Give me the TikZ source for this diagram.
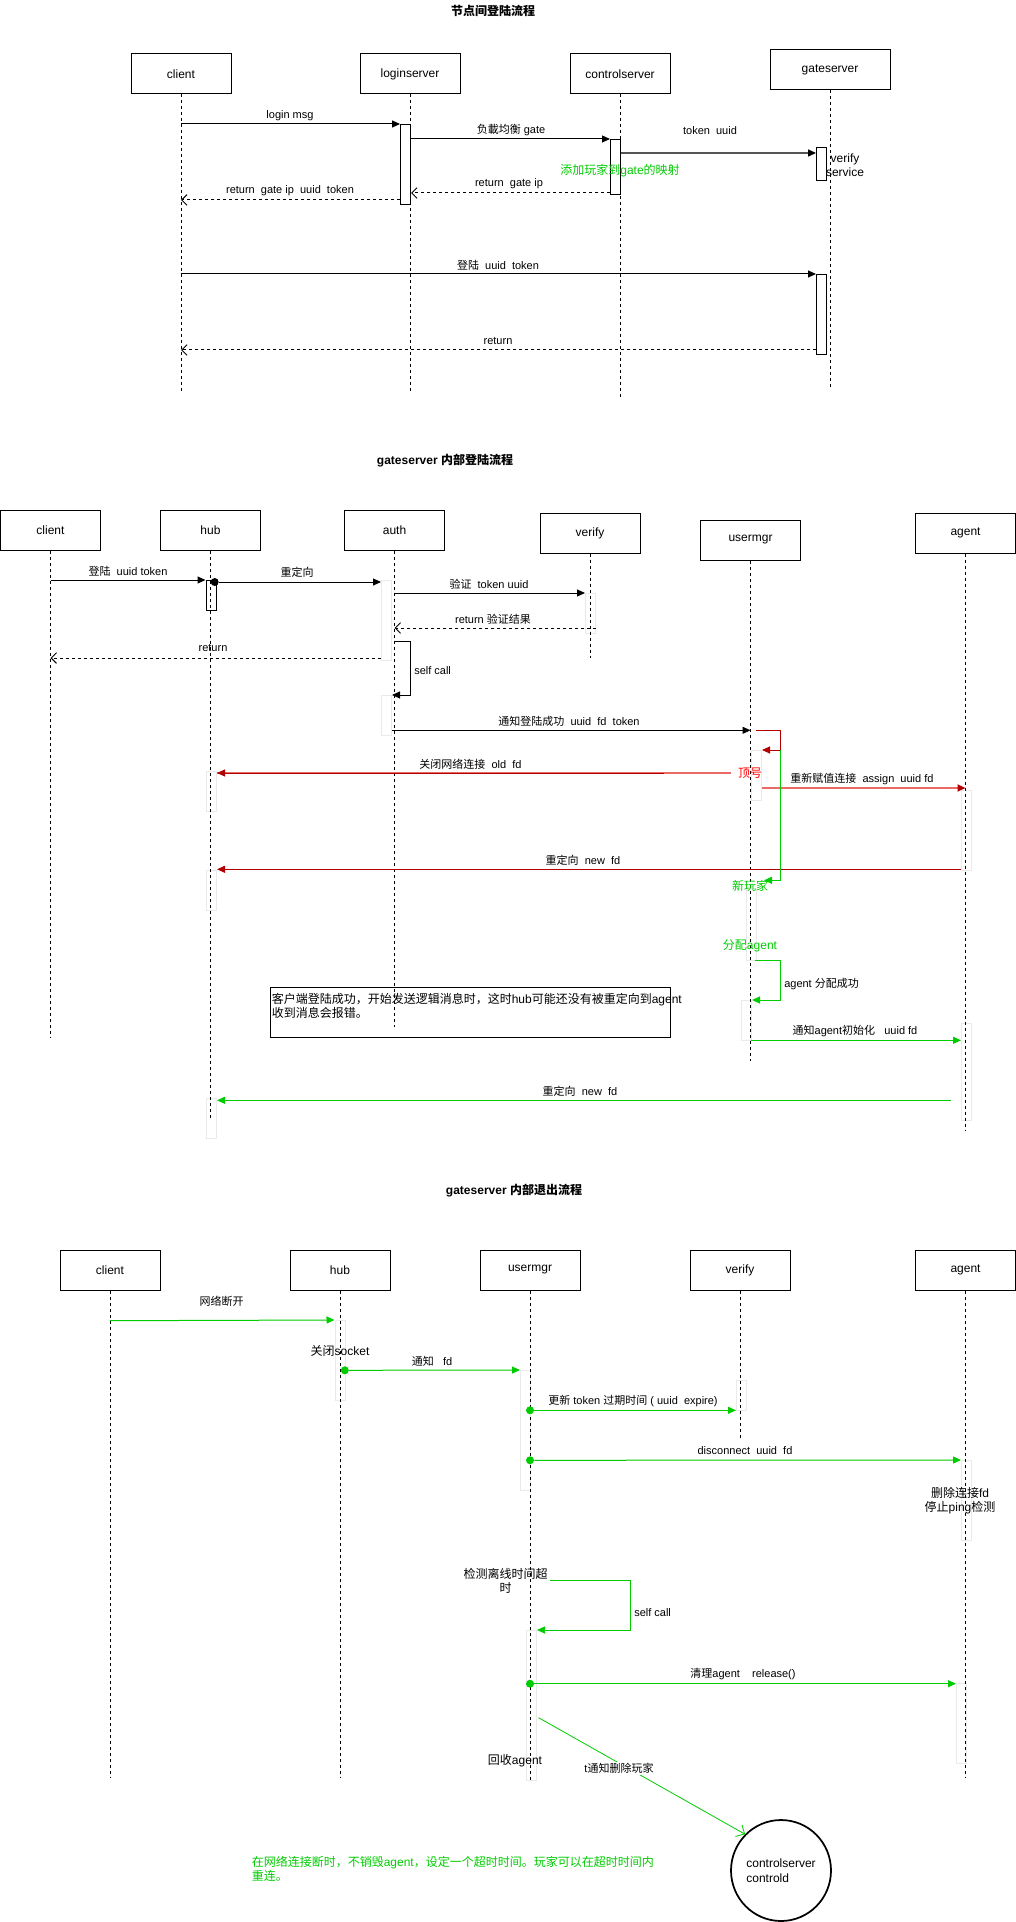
\documentclass[tikz,border=0pt]{standalone}
\usepackage{fontspec}
\setmainfont{Liberation Sans}
\newfontfamily\zh{Noto Sans CJK SC}
\usetikzlibrary{arrows.meta,shapes.geometric}
\definecolor{gr}{RGB}{0,204,0}
\definecolor{dred}{RGB}{178,0,0}
\definecolor{lred}{RGB}{234,107,102}
\definecolor{faint}{RGB}{234,234,234}
\definecolor{tokgray}{RGB}{85,85,85}
\newcommand\fsa{\fontsize{8.25pt}{9.9pt}\selectfont}
\newcommand\fsb{\fontsize{9pt}{10.8pt}\selectfont}
\tikzset{
  actor/.style={draw, line width=0.75pt, minimum width=75pt, minimum height=30pt, inner sep=0pt, font=\fsb},
  lbl/.style={font=\fsa, inner sep=0pt},
  big/.style={font=\fsb, inner sep=0pt},
  ttl/.style={font=\fsb\bfseries, inner sep=0pt},
  life/.style={line width=0.75pt, dash pattern=on 2.25pt off 2.25pt},
  msg/.style={line width=0.75pt, -{Triangle[length=6pt,width=5.25pt]}},
  ret/.style={line width=0.75pt, dash pattern=on 2.25pt off 2.25pt, -{Straight Barb[length=4pt,width=8pt]}},
  actbox/.style 2 args={draw, fill=white, line width=0.75pt, anchor=north west, inner sep=0pt, minimum width=#1*0.75pt, minimum height=#2*0.75pt},
  fact/.style 2 args={actbox={#1}{#2}, draw=faint},
  dot/.style={circle, fill, inner sep=0pt, minimum size=6pt},
}
\begin{document}
\begin{tikzpicture}[x=0.75pt,y=-0.75pt]
\fill[white] (0,0) rectangle (1016,1922);
\useasboundingbox (0,0) rectangle (1016,1922);

%================ Section 1 =================
\node[ttl] (t1) at (493,11) {\zh 节点间登陆流程};
\node[actor] (c1) at (181,74) {client};
\node[actor] (l1) at (410,74) {loginserver};
\node[actor] (k1) at (620,74) {controlserver};
\node[actor, minimum width=90pt] (g1) at (830,70) {gateserver};

\node[actbox={10}{80}] (la1) at (400,124) {};
\node[actbox={10}{55}] (ca1) at (610,139) {};
\node[actbox={10}{33}] (ga1) at (816,147) {};
\node[actbox={10}{80}] (ga2) at (816,274) {};

\draw[life] (c1.south) -- (c1 |- 0,391);
\draw[life] (l1.south) -- (l1 |- 0,391);
\draw[life] (k1.south) -- (k1 |- 0,397);
\draw[life] (g1.south) -- (g1 |- 0,387);

\draw[msg] (c1 |- 0,124) -- (la1.north west);
\node[lbl] (m1) at (290,116) {login msg};
\draw[msg] (la1.east |- 0,139) -- (ca1.north west);
\node[lbl] (m2) at (511,130) {{\zh 负載均衡} gate};
\draw[line width=1.1pt, tokgray, -{Triangle[length=6pt,width=5.25pt,color=black]}] (ca1.east |- 0,153) -- (ga1.west |- 0,153);
\node[lbl] (m3) at (710,131) {token\ \ uuid};
\node[big, text=gr] (m4) at (620,171) {{\zh 添加玩家到}gate{\zh 的映射}};
\node[big, align=center] (m5) at (845,165) {verify\\service};
\draw[ret] (ca1.west |- 0,193) -- (la1.east |- 0,193);
\node[lbl] (m6) at (509,184) {return\ \ gate ip};
\draw[ret] (la1.west |- 0,200) -- (c1 |- 0,200);
\node[lbl] (m7) at (290,191) {return\ \ gate ip\ \ uuid\ \ token};
\draw[msg] (c1 |- 0,274) -- (ga2.north west);
\node[lbl] (m8) at (498,265) {{\zh 登陆}\ \ uuid\ \ token};
\draw[ret] (ga2.west |- 0,350) -- (c1 |- 0,350);
\node[lbl] (m9) at (498,341) {return};

%================ Section 2 =================
\node[ttl] (t2) at (445,461) {gateserver {\zh 内部登陆流程}};
\node[actor] (c2) at (50.5,530) {client};
\node[actor] (h2) at (210.5,530) {hub};
\node[actor] (a2) at (394.5,530) {auth};
\node[actor] (v2) at (590,533) {verify};
\node[actor] (u2) at (750.5,540) {usermgr};
\node[actor] (ag2) at (965.5,533) {agent};

\node[actbox={10}{30}] (hA) at (205.5,580) {};
\node[fact={10}{80}] (aA1) at (381,580) {};
\node[fact={10}{40}] (vA) at (585,593) {};
\node[fact={10}{40}] (aA2) at (381,695) {};
\node[fact={10}{50}] (uA1) at (751,750) {};
\node[fact={10}{40}] (hA2) at (206,771) {};
\node[fact={10}{80}] (agA1) at (961,790) {};
\node[fact={10}{40}] (hA3) at (206,870) {};
\node[fact={10}{72}] (uA2) at (746,888) {};
\node[fact={10}{40}] (uA3) at (741,1000) {};
\node[fact={10}{97}] (agA2) at (961,1023) {};
\node[fact={10}{40}] (hA4) at (206,1098) {};

\draw[life] (c2.south) -- (c2 |- 0,1037);
\draw[life] (h2.south) -- (h2 |- 0,1118);
\draw[life] (a2.south) -- (a2 |- 0,1027);
\draw[life] (v2.south) -- (v2 |- 0,658);
\draw[life] (u2.south) -- (u2 |- 0,1061);
\draw[life] (ag2.south) -- (ag2 |- 0,1130);

\draw[msg] (c2 |- 0,580) -- (hA.north west);
\node[lbl] (n1) at (128,571) {{\zh 登陆}\ \ uuid token};
\node[dot] (d1) at (214.7,582) {};
\draw[msg] (d1) -- (aA1.west |- 0,582);
\node[lbl] (n2) at (297,572) {\zh 重定向};
\draw[msg] (a2 |- 0,593) -- (vA.north west);
\node[lbl] (n3) at (489,584) {{\zh 验证}\ \ token uuid};
\draw[ret] (vA.east |- 0,628) -- (a2 |- 0,628);
\node[lbl] (n4) at (493,619) {return {\zh 验证结果}};
\draw[ret] (aA1.west |- 0,658) -- (c2 |- 0,658);
\node[lbl] (n5) at (213,648) {return};
\coordinate (sc1) at (410,641);
\draw[msg] (a2 |- sc1) -- (sc1) |- (aA2.north east);
\node[lbl, anchor=west] (n6) at (414,671) {self call};
\draw[msg] (aA2.east |- 0,730.3) -- (u2 |- 0,730.3);
\node[lbl] (n7) at (569,721) {{\zh 通知登陆成功}\ \ uuid\ \ fd\ \ token};
\coordinate (rr) at (780.3,730.3);
\draw[line width=0.75pt, dred, -{Triangle[length=6pt,width=5.25pt]}] (755.7,730.3) -- (rr) |- (uA1.north east);
% 关闭网络连接
\draw[lred, line width=1.5pt] (730.7,773) -- (hA2.east |- 0,773);
\draw[line width=0.75pt, dred, -{Triangle[length=6pt,width=5.25pt]}] (664,773) -- (hA2.east |- 0,773);
\node[big, text=red] (n8) at (750,773) {\zh 顶号};
\node[lbl] (n9) at (470.5,764) {{\zh 关闭网络连接}\ \ old\ \ fd};
\draw[lred, line width=1.5pt, -{Triangle[length=6pt,width=5.25pt,color=dred]}] (uA1.east |- 0,788) -- (ag2 |- 0,788);
\node[lbl] (n10) at (862,779) {{\zh 重新赋值连接}\ \ assign\ \ uuid fd};
\draw[line width=0.75pt, dred, -{Triangle[length=6pt,width=5.25pt]}] (agA1.west |- 0,869.3) -- (hA3.east |- 0,869.3);
\node[lbl] (n11) at (583,860) {{\zh 重定向}\ \ new\ \ fd};
\coordinate (np) at (764,880.3);
\draw[line width=0.75pt, gr, -{Triangle[length=6pt,width=5.25pt]}] (rr |- uA1.north) -- (rr |- np) -- (np);
\node[big, text=gr] (n12) at (750,886) {\zh 新玩家};
\node[big, text=gr] (n13) at (750,946) {{\zh 分配}agent};
\coordinate (sc2) at (780,960.3);
\draw[line width=0.75pt, gr, -{Triangle[length=6pt,width=5.25pt]}] (755,960.3) -- (sc2) |- (uA3.north east);
\node[lbl, anchor=west] (n14) at (784,983.7) {agent {\zh 分配成功}};
\node[draw, line width=0.75pt, anchor=north west, inner sep=0pt, minimum width=300pt, minimum height=38pt] (nb) at (270.3,986.7) {};
\node[big, anchor=north west, align=left] (nt) at (271.5,993) {{\zh 客户端登陆成功，开始发送逻辑消息时，这时}hub{\zh 可能还没有被重定向到}agent\\{\zh 收到消息会报错。}};
\draw[line width=0.75pt, gr, -{Triangle[length=6pt,width=5.25pt]}] (u2 |- 0,1040.3) -- (agA2.west |- 0,1040.3);
\node[lbl] (n15) at (855,1031) {{\zh 通知}agent{\zh 初始化}\ \ \ uuid fd};
\draw[line width=0.75pt, gr, -{Triangle[length=6pt,width=5.25pt]}] (951,1100.3) -- (hA4.east |- 0,1100.3);
\node[lbl] (n16) at (580,1091) {{\zh 重定向}\ \ new\ \ fd};

%================ Section 3 =================
\node[ttl] (t3) at (514,1191) {gateserver {\zh 内部退出流程}};
\node[actor] (c3) at (110,1270) {client};
\node[actor] (h3) at (340,1270) {hub};
\node[actor] (u3) at (530,1270) {usermgr};
\node[actor] (v3) at (740,1270) {verify};
\node[actor] (ag3) at (965.5,1270) {agent};

\node[fact={10}{80}] (hB) at (334.5,1320) {};
\node[fact={10}{120}] (uB1) at (520,1370) {};
\node[fact={10}{30}] (vB) at (736,1380) {};
\node[fact={10}{80}] (agB1) at (961,1460) {};
\node[fact={10}{150}] (uB2) at (526,1630) {};
\node[fact={10}{80}] (agB2) at (956,1683) {};

\draw[life] (c3.south) -- (c3 |- 0,1778);
\draw[life] (h3.south) -- (h3 |- 0,1778);
\draw[life] (u3.south) -- (u3 |- 0,1780);
\draw[life] (v3.south) -- (v3 |- 0,1438);
\draw[life] (ag3.south) -- (ag3 |- 0,1778);

\begin{scope}[gr]
\draw[msg] (c3 |- 0,1320.7) -- (hB.north west);
\node[dot] (e1) at (344.8,1370.3) {};
\draw[msg] (e1) -- (uB1.north west);
\node[dot] (e2) at (530,1410.3) {};
\draw[msg] (e2) -- (vB.west |- e2);
\node[dot] (e3) at (530,1460.3) {};
\draw[msg] (e3) -- (agB1.north west);
\coordinate (sc3) at (630.6,1580.7);
\draw[msg] (549.6,1580.7) -- (sc3) |- (uB2.north east);
\node[dot] (e4) at (530,1683.7) {};
\draw[msg] (e4) -- (agB2.west |- e4);
\end{scope}
\node[lbl] (p1) at (221.6,1301) {\zh 网络断开};
\node[big] (p2) at (340,1351) {{\zh 关闭}socket};
\node[lbl] (p3) at (432,1361) {{\zh 通知}\ \ \ fd};
\node[lbl] (p4) at (633,1400.7) {{\zh 更新} token {\zh 过期时间} ( uuid\ \ expire)};
\node[lbl] (p5) at (745,1451) {disconnect\ \ uuid\ \ fd};
\node[big, align=center] (p6) at (960,1500.5) {{\zh 删除连接}fd\\{\zh 停止}ping{\zh 检测}};
\node[big, align=center] (p7) at (505.5,1580.7) {{\zh 检测离线时间超}\\{\zh 时}};
\node[lbl, anchor=west] (p8) at (634,1613) {self call};
\node[lbl] (p9) at (743,1674.3) {{\zh 清理}agent\ \ \ \ release()};
\node[big] (p10) at (515,1760.3) {{\zh 回收}agent};

\node[draw, ellipse, line width=1.3pt, minimum width=75pt, minimum height=75.75pt, inner sep=0pt, font=\fsb, align=left] (el) at (781,1870.5) {controlserver\\controld};
\coordinate (q1) at (538.6,1717.7);
\draw[gr, line width=0.6pt, -{Straight Barb[length=5pt,width=10pt]}] (q1) -- (el.north west);
\node[lbl, fill=white, inner sep=1pt] (p11) at (619,1768.3) {t{\zh 通知删除玩家}};
\node[big, anchor=west, align=left, text=gr] (p12) at (251.5,1869) {{\zh 在网络连接断时，不销毁}agent{\zh ，设定一个超时时间。玩家可以在超时时间内}\\{\zh 重连。}};
\end{tikzpicture}
\end{document}
